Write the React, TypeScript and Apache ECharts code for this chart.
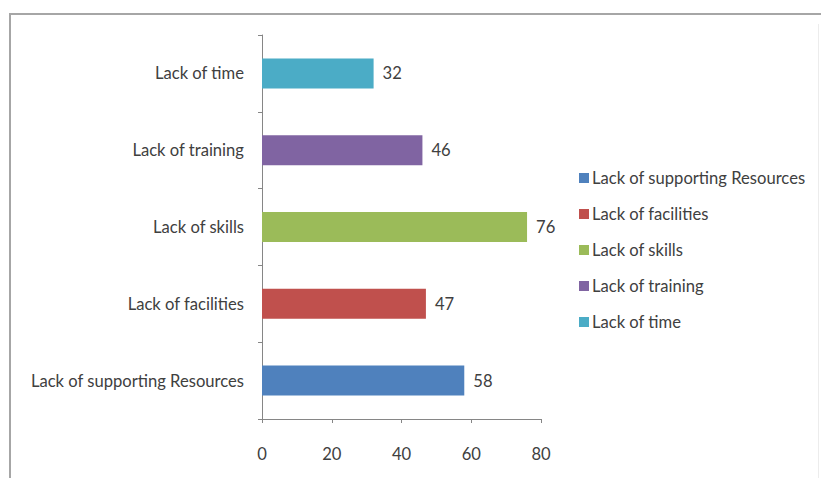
import React, { useEffect, useRef } from "react";
import * as echarts from "echarts";

// Categories listed bottom-to-top on the category axis
const categories = [
  "Lack of supporting Resources",
  "Lack of facilities",
  "Lack of skills",
  "Lack of training",
  "Lack of time",
];
const values = [58, 47, 76, 46, 32];
const colors = ["#4F81BD", "#C0504D", "#9BBB59", "#8064A2", "#4BACC6"];
const xTicks = [0, 20, 40, 60, 80];

const FONT = "Lato, 'Open Sans', sans-serif";
const TEXT = "#404040";
const SIZE = 16.6;

export default function App() {
  const ref = useRef<HTMLDivElement>(null);

  useEffect(() => {
    if (!ref.current) return;
    const chart = echarts.init(ref.current, undefined, { renderer: "svg" });

    // One series per category, stacked so each bar sits centred in its band
    const series = categories.map((name, i) => ({
      name,
      type: "bar",
      stack: "all",
      barWidth: 30,
      itemStyle: { color: colors[i] },
      label: {
        show: true,
        position: "right",
        distance: 9,
        color: TEXT,
        fontFamily: FONT,
        fontSize: SIZE,
      },
      data: categories.map((_, j) => (j === i ? values[i] : null)),
    }));

    chart.setOption({
      animation: false,
      backgroundColor: "#ffffff",
      grid: { left: 262, right: 280, top: 35, bottom: 59, containLabel: false },
      xAxis: {
        type: "value",
        min: xTicks[0],
        max: xTicks[xTicks.length - 1],
        interval: 20,
        splitLine: { show: false },
        axisLine: { show: true, lineStyle: { color: "#868686", width: 1 } },
        axisTick: { show: true, length: 4, lineStyle: { color: "#868686" } },
        axisLabel: {
          color: TEXT,
          fontFamily: FONT,
          fontSize: SIZE,
          margin: 26,
        },
      },
      yAxis: {
        type: "category",
        data: categories,
        axisLine: { show: true, lineStyle: { color: "#868686", width: 1 } },
        axisTick: { show: true, length: 4, lineStyle: { color: "#868686" } },
        axisLabel: {
          color: TEXT,
          fontFamily: FONT,
          fontSize: SIZE,
          margin: 18,
        },
      },
      legend: {
        orient: "vertical",
        left: 574,
        top: 164,
        icon: "rect",
        itemWidth: 10,
        itemHeight: 10,
        itemGap: 18,
        textStyle: {
          color: TEXT,
          fontFamily: FONT,
          fontSize: SIZE,
          lineHeight: 18,
          padding: [0, 0, 0, -2],
        },
        data: categories,
      },
      graphic: [
        {
          type: "line",
          shape: { x1: 9, y1: 14, x2: 821, y2: 14 },
          style: { stroke: "#a6a6a6", lineWidth: 2 },
        },
        {
          type: "line",
          shape: { x1: 10, y1: 13, x2: 10, y2: 478 },
          style: { stroke: "#a6a6a6", lineWidth: 2 },
        },
        {
          type: "line",
          shape: { x1: 818.5, y1: 24, x2: 818.5, y2: 478 },
          style: { stroke: "#ececec", lineWidth: 1 },
        },
      ],
      series,
    });

    return () => chart.dispose();
  }, []);

  return (
    <div
      ref={ref}
      style={{ position: "absolute", left: 0, top: 0, width: 821, height: 478 }}
    />
  );
}
